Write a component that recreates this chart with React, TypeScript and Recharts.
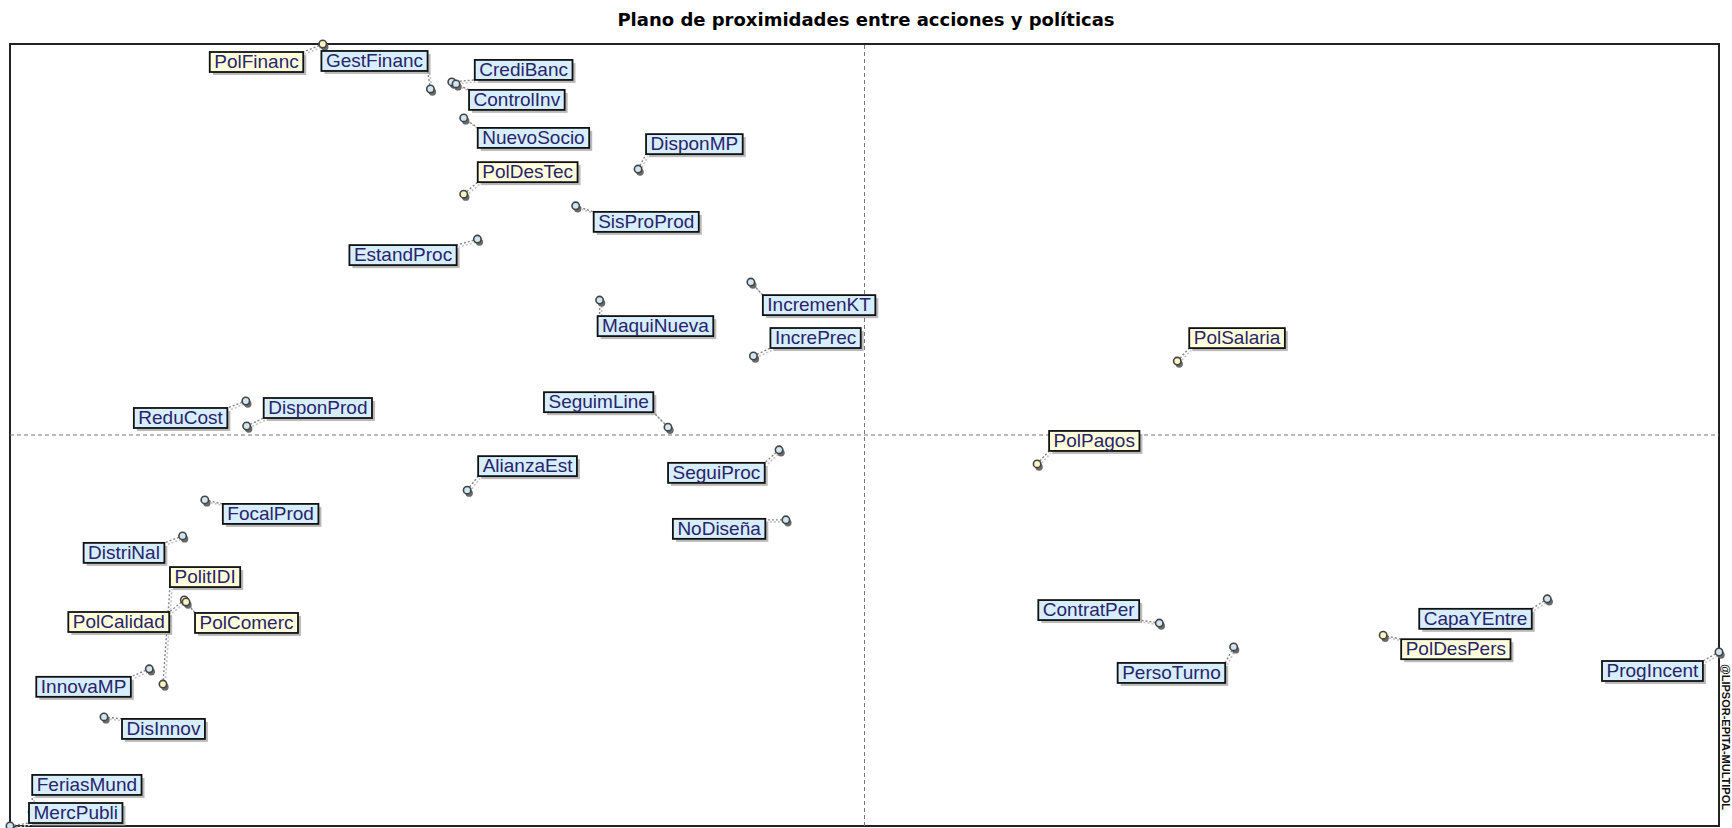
import {
  ScatterChart,
  Scatter,
  XAxis,
  YAxis,
  ReferenceLine,
  ReferenceArea,
} from "recharts";

// acciones (blue labels)
const accionNames = [
  "GestFinanc", "CrediBanc", "ControlInv", "NuevoSocio", "DisponMP", "SisProProd",
  "EstandProc", "IncremenKT", "MaquiNueva", "IncrePrec", "ReduCost", "DisponProd",
  "SeguimLine", "AlianzaEst", "SeguiProc", "FocalProd", "NoDiseña", "DistriNal",
  "InnovaMP", "DisInnov", "FeriasMund", "MercPubli", "ContratPer", "PersoTurno",
  "CapaYEntre", "ProgIncent",
];
const accionX = [
  -50.8, -48.3, -47.8, -46.9, -26.5, -33.8, -45.3, -13.3, -31.0, -13.0, -72.4, -72.3,
  -23.0, -46.5, -10.0, -77.2, -9.2, -79.8, -83.7, -89.0, -97.4, -100, 34.5, 43.2, 79.9, 100,
];
const accionY = [
  88.5, 90.3, 89.8, 81.1, 68.0, 58.6, 50.1, 39.1, 34.5, 20.2, 8.7, 2.3, 2.0, -14.1, -3.8,
  -16.6, -21.7, -25.8, -59.8, -72.1, -96.4, -100, -48.1, -54.2, -41.9, -55.5,
];

// políticas (yellow labels)
const politicaNames = [
  "PolFinanc", "PolDesTec", "PolSalaria", "PolPagos", "PolitIDI", "PolCalidad", "PolComerc", "PolDesPers",
];
const politicaX = [-63.4, -46.9, 36.6, 20.2, -82.1, -79.6, -79.4, 60.7];
const politicaY = [100, 61.6, 18.9, -7.4, -63.7, -42.2, -42.7, -51.2];

const acciones = accionNames.map((name, i) => ({ name, x: accionX[i], y: accionY[i] }));
const politicas = politicaNames.map((name, i) => ({ name, x: politicaX[i], y: politicaY[i] }));

// where each label box sits relative to its marker (px, top-left corner)
const labelOffset: Record<string, [number, number]> = {
  PolFinanc: [-113, 8],
  GestFinanc: [-109, -38],
  CrediBanc: [23, -22],
  ControlInv: [13, 6],
  NuevoSocio: [14, 10],
  PolDesTec: [14, -32],
  DisponMP: [8, -35],
  SisProProd: [18, 6],
  EstandProc: [-128, 6],
  IncremenKT: [12, 13],
  MaquiNueva: [-2, 16],
  IncrePrec: [17, -28],
  ReduCost: [-112, 7],
  DisponProd: [17, -28],
  SeguimLine: [-124, -35],
  AlianzaEst: [11, -34],
  SeguiProc: [-111, 13],
  FocalProd: [18, 4],
  NoDiseña: [-113, -1],
  DistriNal: [-99, 7],
  PolitIDI: [7, -117],
  PolCalidad: [-116, 12],
  PolComerc: [9, 11],
  InnovaMP: [-113, 8],
  DisInnov: [18, 2],
  FeriasMund: [0, -37],
  MercPubli: [19, -23],
  PolSalaria: [12, -33],
  PolPagos: [12, -33],
  ContratPer: [-121, -23],
  PersoTurno: [-116, 16],
  CapaYEntre: [-128, 10],
  PolDesPers: [18, 4],
  ProgIncent: [-117, 9],
};

const LABEL_FONT = "'Liberation Sans', Arial, sans-serif";
const LABEL_SIZE = 19;
const BOX_H = 20;

let measureCtx: CanvasRenderingContext2D | null = null;
function textWidth(s: string) {
  if (!measureCtx) measureCtx = document.createElement("canvas").getContext("2d");
  if (!measureCtx) return s.length * 10;
  measureCtx.font = `${LABEL_SIZE}px 'Liberation Sans'`;
  return measureCtx.measureText(s).width;
}

function boxFor(name: string, cx: number, cy: number) {
  const [dx, dy] = labelOffset[name] ?? [10, -10];
  const w = textWidth(name) + 9;
  return { bx: cx + dx, by: cy + dy, w };
}

function markerShape(fill: string) {
  return (props: any) => {
    const { cx, cy, payload } = props;
    const { bx, by, w } = boxFor(payload.name, cx, cy);
    const px = Math.min(Math.max(cx, bx), bx + w);
    const py = Math.min(Math.max(cy, by), by + BOX_H);
    return (
      <g>
        <line x1={cx + 2} y1={cy + 2} x2={px + 2} y2={py + 2} stroke="#c4c4c4" strokeWidth={1.6} strokeDasharray="2 2" />
        <line x1={cx} y1={cy} x2={px} y2={py} stroke="#858585" strokeWidth={1.4} strokeDasharray="2 2" />
        <circle cx={cx + 2} cy={cy + 3} r={3.7} fill="#6a6a6a" />
        <circle cx={cx} cy={cy} r={3.7} fill={fill} stroke="#444" strokeWidth={1.6} />
      </g>
    );
  };
}

function labelShape(bg: string) {
  return (props: any) => {
    const { cx, cy, payload } = props;
    const { bx, by, w } = boxFor(payload.name, cx, cy);
    return (
      <g>
        <rect x={bx + 3} y={by + 3} width={w} height={BOX_H} fill="#8c8c8c" opacity={0.6} />
        <rect x={bx} y={by} width={w} height={BOX_H} fill={bg} stroke="#111" strokeWidth={1.8} />
        <text x={bx + 4.5} y={by + 16} fontFamily={LABEL_FONT} fontSize={LABEL_SIZE} fill="#2a2468">
          {payload.name}
        </text>
      </g>
    );
  };
}

export default function App() {
  return (
    <div style={{ position: "absolute", left: 0, top: 0, width: 1732, height: 828, background: "#fff" }}>
      <div
        style={{
          position: "absolute",
          left: 0,
          top: 9,
          width: 1732,
          textAlign: "center",
          fontFamily: "'DejaVu Sans', Verdana, sans-serif",
          fontWeight: "bold",
          fontSize: 18,
          color: "#000",
        }}
      >
        Plano de proximidades entre acciones y políticas
      </div>
      <ScatterChart width={1732} height={828} margin={{ top: 44, right: 13, bottom: 2, left: 10 }}>
        <XAxis type="number" dataKey="x" domain={[-100, 100]} hide />
        <YAxis type="number" dataKey="y" domain={[-100, 100]} hide />
        <ReferenceArea x1={-100} x2={100} y1={-100} y2={100} fill="none" fillOpacity={0} stroke="#222" strokeWidth={2} />
        <ReferenceLine x={0} stroke="#777" strokeDasharray="4 3" />
        <ReferenceLine y={0} stroke="#777" strokeDasharray="4 3" />
        <Scatter data={acciones} shape={markerShape("#cfe6f5")} isAnimationActive={false} />
        <Scatter data={politicas} shape={markerShape("#fff6c0")} isAnimationActive={false} />
        <Scatter data={acciones} shape={labelShape("#d6eeff")} isAnimationActive={false} />
        <Scatter data={politicas} shape={labelShape("#ffffdc")} isAnimationActive={false} />
      </ScatterChart>
      <div
        style={{
          position: "absolute",
          left: 1720,
          top: 664,
          writingMode: "vertical-rl",
          fontFamily: "'Liberation Sans', Arial, sans-serif",
          fontWeight: "bold",
          fontSize: 11,
          color: "#111",
          whiteSpace: "nowrap",
        }}
      >
        @LIPSOR-EPITA-MULTIPOL
      </div>
    </div>
  );
}
